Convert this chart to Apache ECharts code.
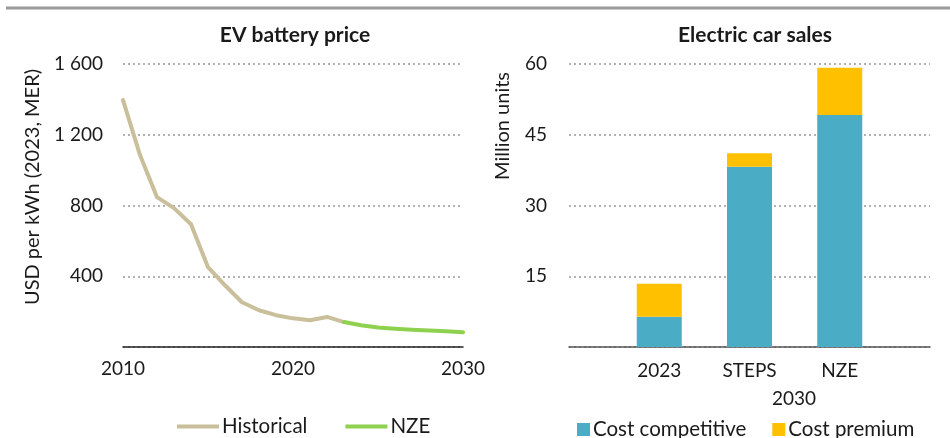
<!DOCTYPE html>
<html>
<head>
<meta charset="utf-8">
<script src="https://cdn.jsdelivr.net/npm/echarts@6/dist/echarts.min.js"></script>
<style>
  html, body { margin: 0; padding: 0; background: #fff; }
  #main { width: 950px; height: 438px; }
</style>
</head>
<body>
<div id="main"></div>
<script>
// EV battery price (USD per kWh, 2023 MER)
var histYears = [2010, 2011, 2012, 2013, 2014, 2015, 2016, 2017, 2018, 2019, 2020, 2021, 2022, 2023];
var histPrice = [1396, 1085, 847, 785, 694, 451, 349, 253, 208, 180, 162, 151, 170, 141];
var nzeYears = [2023, 2024, 2025, 2026, 2027, 2028, 2029, 2030];
var nzePrice = [141, 123, 110, 103, 98, 93, 89, 83];
var priceTicks = ['', '400', '800', '1 200', '1 600'];

// Electric car sales (million units)
var salesCats = ['', '2023', 'STEPS', 'NZE', ''];
var costCompetitive = [null, 6.4, 38.2, 49.2, null];
var costPremium = [null, 7.0, 2.9, 10.0, null];

var FONT = 'Lato';
var TXT = '#1a1a1a';

function pairs(xs, ys) {
  return xs.map(function (x, i) { return [x, ys[i]]; });
}

var myChart = echarts.init(document.getElementById('main'));

var option = {
  animation: false,
  textStyle: { fontFamily: FONT, color: TXT },
  title: [
    { text: 'EV battery price', left: 290, top: 20, textAlign: 'center',
      textStyle: { fontFamily: FONT, fontSize: 21, fontWeight: 'bold', color: TXT } },
    { text: 'Electric car sales', left: 750, top: 20, textAlign: 'center',
      textStyle: { fontFamily: FONT, fontSize: 21, fontWeight: 'bold', color: TXT } }
  ],
  legend: [
    {
      data: [{ name: 'Historical', icon: 'rect' }, { name: 'NZE', icon: 'rect' }],
      left: 172, top: 411,
      itemWidth: 42, itemHeight: 4, itemGap: 38,
      textStyle: { fontFamily: FONT, fontSize: 20.5, color: TXT, padding: [0, 0, 0, -2] }
    },
    {
      data: ['Cost competitive', 'Cost premium'],
      left: 572, top: 414,
      icon: 'rect',
      itemWidth: 13, itemHeight: 13, itemGap: 26,
      textStyle: { fontFamily: FONT, fontSize: 20.5, color: TXT, padding: [0, 0, 0, -2] }
    }
  ],
  grid: [
    { left: 123, right: 487, top: 64, bottom: 91 },
    { left: 569, right: 20, top: 64, bottom: 91 }
  ],
  xAxis: [
    {
      gridIndex: 0, type: 'value', min: 2010, max: 2030, interval: 10,
      axisLine: { lineStyle: { color: '#222', width: 1.5 } },
      axisTick: { show: false },
      splitLine: { show: false },
      axisLabel: { fontFamily: FONT, fontSize: 19, color: TXT, margin: 12,
                   formatter: function (v) { return String(v); } }
    },
    {
      gridIndex: 1, type: 'category', data: salesCats, boundaryGap: false,
      axisLine: { lineStyle: { color: '#555', width: 1.5 } },
      axisTick: { show: false },
      axisLabel: { fontFamily: FONT, fontSize: 19, color: TXT, margin: 14, interval: 0 }
    }
  ],
  yAxis: [
    {
      gridIndex: 0, type: 'value', min: 0, max: 1600, interval: 400,
      axisLine: { show: false },
      axisTick: { show: false },
      splitLine: { lineStyle: { color: '#999', type: [2, 3], width: 1.5 } },
      axisLabel: {
        fontFamily: FONT, fontSize: 19, color: TXT, margin: 20,
        formatter: function (v) { return priceTicks[v / 400]; }
      }
    },
    {
      gridIndex: 1, type: 'value', min: 0, max: 60, interval: 15,
      axisLine: { show: false },
      axisTick: { show: false },
      splitLine: { lineStyle: { color: '#999', type: [2, 3], width: 1.5 } },
      axisLabel: {
        fontFamily: FONT, fontSize: 19, color: TXT, margin: 22,
        formatter: function (v) { return v === 0 ? '' : String(v); }
      }
    }
  ],
  graphic: [
    { type: 'line', shape: { x1: 6, y1: 8, x2: 950, y2: 8 },
      style: { stroke: '#999', lineWidth: 3 } },
    { type: 'text', x: 33, y: 187, rotation: Math.PI / 2,
      style: { text: 'USD per kWh (2023, MER)', fontFamily: FONT, fontSize: 20, fill: TXT,
               align: 'center', verticalAlign: 'middle' } },
    { type: 'text', x: 503, y: 126, rotation: Math.PI / 2,
      style: { text: 'Million units', fontFamily: FONT, fontSize: 20, fill: TXT,
               align: 'center', verticalAlign: 'middle' } },
    { type: 'text', x: 794, y: 399,
      style: { text: '2030', fontFamily: FONT, fontSize: 19, fill: TXT,
               align: 'center', verticalAlign: 'middle' } }
  ],
  series: [
    {
      name: 'Historical', type: 'line', xAxisIndex: 0, yAxisIndex: 0,
      data: pairs(histYears, histPrice),
      showSymbol: false, symbol: 'none',
      color: '#C9BF9B',
      lineStyle: { width: 4, color: '#C9BF9B', cap: 'round', join: 'round' }
    },
    {
      name: 'NZE', type: 'line', xAxisIndex: 0, yAxisIndex: 0,
      data: pairs(nzeYears, nzePrice),
      showSymbol: false, symbol: 'none',
      color: '#8ED14F',
      lineStyle: { width: 4, color: '#8ED14F', cap: 'round', join: 'round' }
    },
    {
      name: 'Cost competitive', type: 'bar', xAxisIndex: 1, yAxisIndex: 1,
      stack: 'sales', data: costCompetitive, barWidth: 45,
      itemStyle: { color: '#4BACC6' }
    },
    {
      name: 'Cost premium', type: 'bar', xAxisIndex: 1, yAxisIndex: 1,
      stack: 'sales', data: costPremium, barWidth: 45,
      itemStyle: { color: '#FFC000' }
    }
  ]
};

myChart.setOption(option, true);
</script>
</body>
</html>
